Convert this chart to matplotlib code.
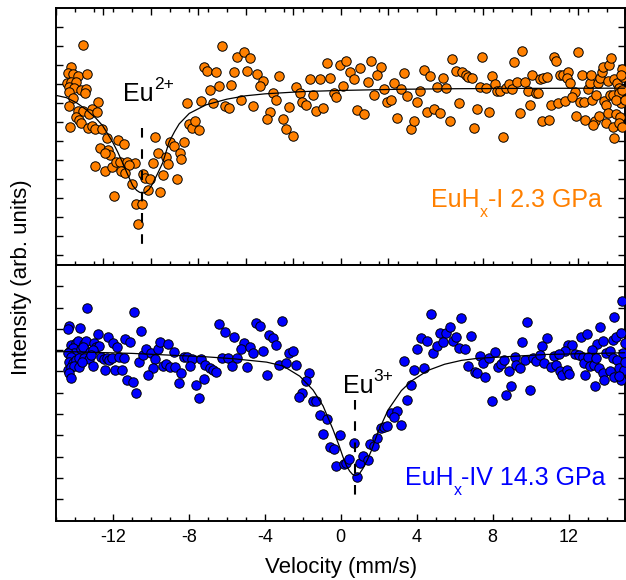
import matplotlib
matplotlib.use('Agg')
import matplotlib.pyplot as plt
from matplotlib.ticker import MultipleLocator

plt.rcParams['font.family'] = ['Liberation Sans', 'DejaVu Sans']
plt.rcParams['axes.unicode_minus'] = False

# ---------------- data: upper panel (EuHx-I, 2.3 GPa) ----------------
upper_v = [-13.59, -14.23, -14.38, -14.12, -13.86, -13.37, -14.42, -14.21, -13.95, -14.30,
           -14.04, -13.68, -13.42, -13.47, -14.33, -14.12, -14.30, -12.77, -13.86, -13.56,
           -13.11, -13.25, -12.86, -13.95, -13.77, -13.68, -14.26, -13.30, -13.12, -12.95,
           -12.58, -12.33, -11.75, -11.44, -12.68, -12.25, -12.16, -12.42, -12.93, -12.44,
           -12.05, -11.84, -11.63, -11.25, -10.84, -11.14, -11.56, -11.35, -11.00, -11.96,
           -10.79, -10.47, -10.68, -10.41, -10.30, -10.04, -10.14, -9.79, -9.65, -9.91,
           -9.21, -9.12, -9.38, -9.51, -8.98, -8.81, -8.47, -8.41, -8.65, -8.25,
           -8.11, -7.98, -7.81, -7.49, -7.67, -7.37, -7.23, -6.25, -5.44, -5.12,
           -4.77, -7.04, -6.59, -5.62, -4.93, -4.42, -4.11, -4.26, -3.25, -6.89,
           -6.42, -5.77, -6.72, -6.11, -5.91, -5.26, -4.62, -3.58, -3.41, -3.74,
           -3.91, -3.05, -2.70, -2.88, -2.51, -2.35, -2.17, -2.02, -1.81, -1.47,
           -1.63, -1.11, -0.56, -0.75, -0.05, 0.12, -0.37, -0.23, -1.28, -0.93,
           0.30, 0.51, 0.68, 1.04, 1.58, 2.11, 1.93, 1.41, 0.86, 1.21,
           1.74, 2.26, 2.46, 2.63, 2.79, 3.16, 3.33, 3.51, 2.98, 3.68,
           3.86, 4.04, 4.19, 4.37, 4.70, 4.54, 4.89, 5.23, 5.07, 5.38,
           5.56, 5.74, 5.88, 6.05, 6.37, 6.58, 6.72, 6.89, 6.23, 7.17,
           7.02, 7.35, 7.46, 9.54, 9.12, 7.96, 8.11, 7.67, 8.25, 8.41,
           8.68, 8.84, 9.02, 9.28, 9.68, 10.09, 9.86, 10.26, 10.38, 10.49,
           10.65, 10.86, 7.81, 9.42, 9.98, 8.54, 10.59, 10.96, 11.09, 11.44,
           11.79, 11.21, 11.35, 12.49, 11.56, 11.70, 11.96, 11.91, 12.09, 12.32,
           12.19, 12.58, 12.41, 12.89, 12.79, 13.04, 13.11, 12.70, 13.16, 13.21,
           13.46, 13.37, 13.28, 13.59, 13.54, 13.67, 13.74, 13.81, 14.12, 14.26,
           14.07, 13.89, 13.98, 14.16, 14.33, 14.42, 14.54, 13.95, 14.33, 14.07,
           14.51, 14.65, 14.68, 14.83, 14.86, 14.83, 14.77, 14.77, 14.72, 14.68,
           14.37, 14.51, 14.95, 14.83]
upper_y = [11.05, 9.91, 9.56, 9.51, 9.44, 9.51, 9.04, 9.12, 9.09, 8.86,
           8.77, 8.68, 8.72, 8.51, 8.59, 8.28, 7.84, 8.04, 7.59, 7.59,
           7.67, 7.42, 7.51, 7.25, 7.11, 6.93, 6.72, 6.67, 6.79, 6.65,
           6.65, 6.17, 6.05, 5.86, 5.62, 5.53, 5.28, 5.38, 4.68, 4.44,
           4.65, 4.91, 4.88, 4.89, 4.86, 4.75, 4.41, 4.33, 3.74, 3.11,
           2.70, 2.70, 1.62, 4.26, 4.07, 4.02, 3.42, 6.21, 5.38, 4.86,
           5.16, 4.77, 4.23, 3.30, 5.95, 5.75, 5.38, 5.07, 4.00, 5.93,
           7.98, 6.88, 6.67, 6.58, 7.07, 8.12, 9.88, 11.02, 10.44, 10.70,
           10.37, 9.70, 9.62, 9.65, 9.68, 9.53, 9.17, 8.89, 9.42, 8.68,
           8.89, 8.96, 8.02, 7.86, 7.72, 8.14, 7.86, 8.53, 8.16, 7.51,
           7.14, 7.17, 7.77, 6.65, 6.28, 8.83, 8.51, 8.05, 7.91, 8.42,
           9.26, 9.25, 9.30, 10.12, 9.98, 8.91, 8.51, 8.30, 7.56, 7.75,
           10.21, 9.63, 9.25, 9.86, 10.21, 9.91, 9.47, 9.12, 7.63, 7.42,
           8.42, 8.75, 8.05, 8.16, 9.07, 8.74, 9.56, 8.38, 7.21, 6.63,
           7.05, 8.05, 8.65, 9.72, 9.41, 7.53, 7.68, 7.47, 8.86, 9.33,
           8.81, 7.04, 10.30, 9.70, 9.63, 9.49, 9.35, 9.33, 7.98, 7.67,
           6.70, 8.86, 10.44, 10.74, 10.14, 9.44, 9.00, 8.77, 8.63, 8.65,
           8.77, 8.98, 8.74, 9.12, 9.12, 9.47, 8.65, 8.54, 8.54, 9.28,
           9.33, 9.38, 7.54, 7.46, 7.88, 6.23, 7.05, 7.11, 7.88, 8.02,
           8.12, 10.41, 10.23, 10.70, 9.47, 9.47, 9.62, 9.33, 9.04, 8.56,
           8.33, 8.04, 7.33, 7.11, 8.07, 8.75, 9.04, 9.47, 9.47, 8.16,
           8.42, 7.05, 6.84, 7.32, 9.07, 9.33, 9.62, 9.91, 10.00, 10.35,
           9.17, 8.12, 7.89, 8.42, 8.42, 9.25, 9.07, 6.93, 6.75, 7.46,
           7.42, 8.77, 8.51, 8.68, 9.38, 9.77, 9.47, 7.98, 7.25, 6.93,
           6.17, 8.16, 8.16, 6.75]

upper_fit_v = [-15.0, -14.45, -13.9, -13.4, -12.9, -12.54, -12.02, -11.75, -11.49, -11.22,
               -10.96, -10.75, -10.6, -10.45, -10.3, -10.1, -9.91, -9.65, -9.38, -9.04,
               -8.75, -8.51, -7.98, -7.1, -6.0, -5.0, -4.0, -2.0, 0.0, 3.0, 6.0, 10.0, 15.0]
upper_fit_y = [8.40, 8.28, 8.00, 7.64, 7.20, 6.80, 5.95, 5.42, 4.85, 4.22,
               3.65, 3.40, 3.30, 3.26, 3.28, 3.45, 3.75, 4.28, 4.85, 5.95,
               6.50, 6.90, 7.45, 7.90, 8.20, 8.38, 8.48, 8.60, 8.66, 8.72, 8.75, 8.77, 8.78]

# ---------------- data: lower panel (EuHx-IV, 14.3 GPa) ----------------
lower_v = [-13.37, -14.33, -14.38, -13.72, -12.77, -12.25, -10.91, -10.53, -11.35, -11.11,
           -11.98, -11.79, -14.21, -13.95, -13.83, -13.51, -13.42, -13.02, -12.89, -12.72,
           -14.30, -14.12, -14.04, -13.68, -13.59, -13.19, -13.07, -14.38, -14.21, -14.30,
           -14.12, -13.95, -13.77, -13.51, -13.25, -13.16, -12.63, -12.46, -12.33, -12.19,
           -12.05, -11.67, -11.44, -14.38, -14.21, -14.04, -13.81, -13.63, -13.07, -12.42,
           -11.88, -11.53, -14.33, -14.21, -11.26, -10.96, -10.79, -10.65, -10.41, -10.26,
           -10.00, -9.77, -9.88, -10.14, -9.63, -9.51, -9.11, -8.81, -9.38, -9.21,
           -8.98, -8.72, -8.41, -8.54, -8.25, -8.11, -7.81, -7.95, -7.35, -7.14,
           -7.23, -7.63, -7.49, -6.42, -6.11, -5.62, -5.11, -5.28, -4.79, -4.62,
           -4.44, -4.26, -3.77, -3.59, -3.42, -3.07, -4.12, -2.72, -2.54, -6.28,
           -5.93, -5.44, -5.75, -4.93, -6.89, -6.72, -6.58, -3.91, -3.25, -2.89,
           -2.37, -1.67, -1.81, -2.02, -2.19, -1.46, -1.28, -1.11, -0.75, -0.93,
           -0.05, -0.58, -0.37, -0.23, 0.16, 0.30, 0.42, 0.70, 0.83, 1.00,
           1.17, 1.44, 1.53, 1.75, 1.93, 2.11, 2.28, 2.46, 2.67, 2.98,
           2.81, 3.19, 3.51, 3.68, 3.33, 3.86, 4.38, 4.04, 4.21, 4.56,
           4.74, 4.88, 5.05, 5.21, 5.56, 5.41, 5.74, 5.91, 6.05, 6.35,
           6.21, 6.56, 6.88, 6.70, 7.05, 7.19, 7.33, 7.49, 7.58, 14.83,
           14.42, 9.83, 9.54, 13.67, 12.67, 12.98, 13.49, 13.81, 14.33, 14.51,
           14.77, 10.62, 10.86, 11.96, 12.19, 11.79, 13.25, 7.81, 8.11, 9.16,
           9.68, 10.12, 10.30, 10.47, 10.70, 11.05, 11.21, 11.49, 11.35, 11.53,
           11.67, 11.91, 12.05, 12.32, 12.54, 12.75, 12.79, 13.02, 13.11, 13.32,
           13.46, 13.63, 13.81, 13.89, 13.98, 14.19, 14.33, 14.54, 14.68, 14.77,
           14.86, 14.93, 8.28, 8.42, 8.58, 8.84, 9.25, 9.42, 8.98, 8.68,
           7.96, 9.95, 12.89, 13.37, 14.16, 14.42, 14.68, 14.95, 14.97]
lower_y = [8.97, 8.14, 8.00, 8.03, 7.75, 7.63, 8.81, 7.92, 7.53, 7.40,
           7.35, 7.14, 7.24, 7.32, 7.43, 7.28, 7.45, 7.32, 7.14, 7.20,
           6.93, 7.09, 6.85, 7.04, 7.16, 6.93, 7.01, 6.85, 6.69, 6.46,
           6.38, 6.54, 6.62, 6.62, 6.59, 6.77, 6.69, 6.57, 6.62, 6.54,
           6.62, 6.69, 6.62, 6.07, 6.23, 6.26, 6.23, 6.46, 6.26, 6.07,
           6.07, 6.07, 5.92, 5.71, 5.60, 5.49, 4.98, 6.46, 6.77, 7.04,
           6.88, 6.59, 6.18, 5.84, 7.04, 7.40, 7.29, 6.93, 6.26, 6.34,
           6.20, 6.20, 5.94, 5.45, 6.69, 6.69, 6.57, 6.26, 6.60, 6.29,
           5.65, 5.37, 4.77, 8.23, 7.87, 7.61, 7.35, 7.07, 7.14, 6.88,
           8.29, 8.14, 7.71, 7.56, 7.24, 8.38, 6.98, 6.88, 6.98, 6.62,
           6.62, 6.62, 6.27, 6.23, 6.15, 6.07, 5.99, 5.85, 6.32, 6.41,
           6.32, 5.94, 5.57, 5.00, 4.79, 4.63, 4.62, 3.96, 3.76, 3.07,
           3.02, 2.44, 2.36, 1.56, 1.66, 1.69, 1.88, 2.66, 1.06, 1.69,
           2.05, 1.85, 2.60, 2.50, 2.86, 3.33, 3.38, 3.44, 4.07, 4.16,
           3.88, 3.49, 4.66, 5.37, 6.51, 6.07, 6.15, 7.04, 7.59, 7.45,
           8.69, 6.85, 7.20, 7.82, 7.79, 7.40, 8.10, 7.43, 7.63, 8.50,
           7.09, 7.04, 7.67, 6.26, 5.99, 5.94, 6.73, 6.38, 5.76, 9.31,
           8.54, 8.34, 7.40, 8.10, 7.61, 7.75, 7.29, 7.43, 7.48, 7.63,
           7.79, 7.21, 7.56, 7.24, 7.24, 6.98, 7.01, 6.62, 6.90, 6.69,
           6.54, 6.62, 6.49, 6.77, 6.41, 6.23, 6.73, 6.81, 6.31, 6.02,
           5.84, 6.07, 5.87, 6.82, 6.77, 6.69, 6.41, 6.69, 6.26, 6.31,
           6.62, 6.18, 5.92, 5.60, 6.85, 6.96, 6.62, 6.54, 6.15, 5.60,
           6.88, 6.07, 6.23, 6.35, 6.54, 6.02, 6.31, 6.15, 5.32, 4.90,
           4.62, 5.13, 5.84, 5.33, 6.02, 5.76, 5.79, 6.46, 7.32]

lower_fit_v = [-15.0, -14.3, -11.0, -7.11, -5.67, -3.91, -3.04, -2.16, -1.46, -0.93,
               -0.41, -0.1, 0.12, 0.3, 0.47, 0.62, 0.75, 0.9, 1.0, 1.17,
               1.4, 1.62, 1.96, 2.49, 3.19, 3.72, 4.59, 5.47, 6.35, 7.23, 10.83, 15.0]
lower_fit_y = [6.93, 6.93, 6.85, 6.69, 6.60, 6.44, 6.26, 5.78, 5.13, 4.38,
               3.28, 2.55, 1.98, 1.58, 1.32, 1.17, 1.12, 1.15, 1.22, 1.45,
               1.85, 2.30, 3.15, 4.19, 5.10, 5.55, 6.05, 6.34, 6.52, 6.62, 6.80, 6.88]

eu2_center = -10.49
eu3_center = 0.74
x_major_labels = [-12, -8, -4, 0, 4, 8, 12]

orange = '#FF8000'
blue = '#0000FF'

fig = plt.figure(figsize=(6.26, 5.80), dpi=100)
W, H = 626.0, 580.0
ax1 = fig.add_axes([56 / W, (H - 265) / H, 569.5 / W, 257 / H])
ax2 = fig.add_axes([56 / W, (H - 521) / H, 569.5 / W, 256 / H])

for ax in (ax1, ax2):
    ax.set_xlim(-15, 15)
    for s in ax.spines.values():
        s.set_linewidth(1.4)
    ax.tick_params(axis='both', which='both', direction='in', width=1.0,
                   labelleft=False, right=True, left=True)
    ax.tick_params(axis='both', which='major', length=4.8)
    ax.tick_params(axis='both', which='minor', length=3.0)

# upper panel
ax1.set_ylim(-0.53, 13.0)
ax1.set_yticks(range(0, 13))
ax1.xaxis.set_major_locator(MultipleLocator(2.5))
ax1.xaxis.set_minor_locator(MultipleLocator(1))
ax1.tick_params(axis='x', which='both', top=True, bottom=True, labelbottom=False)

ax1.plot(upper_v, upper_y, 'o', ms=6.8, mfc=orange, mec='black', mew=0.7,
         clip_on=False, zorder=3)
ax1.plot(upper_fit_v, upper_fit_y, '-', color='black', lw=0.9, zorder=4)
ax1.plot([eu2_center, eu2_center], [6.68, 0.53], color='black', lw=1.5,
         dashes=(4.6, 5.6), zorder=5)

# lower panel
ax2.set_ylim(-1.02, 11.0)
ax2.set_yticks(range(0, 11))
ax2.set_xticks(x_major_labels)
ax2.xaxis.set_minor_locator(MultipleLocator(1))
ax2.tick_params(axis='x', which='both', top=False, bottom=True, labelsize=13, pad=6)

ax2.plot(lower_v, lower_y, 'o', ms=6.8, mfc=blue, mec='black', mew=0.7,
         clip_on=False, zorder=3)
ax2.plot(lower_fit_v, lower_fit_y, '-', color='black', lw=0.9, zorder=4)
ax2.plot([eu3_center, eu3_center], [4.66, -0.17], color='black', lw=1.5,
         dashes=(4.6, 5.6), zorder=5)

fig.text(341 / W, (H - 573.3) / H, 'Velocity (mm/s)', fontsize=16,
         ha='center', va='baseline')
fig.text(27 / W, (H - 277) / H, 'Intensity (arb. units)', fontsize=16,
         rotation=90, rotation_mode='anchor', ha='center', va='baseline')

renderer = fig.canvas.get_renderer()


def chain_text(ax, x, y, parts, color):
    """parts: list of (string, fontsize, baseline shift in pixels)."""
    bx, by = ax.transData.transform((x, y))
    cur = bx
    for s, fs, shift in parts:
        t = fig.text(cur / W, (by + shift) / H, s, fontsize=fs, color=color,
                     ha='left', va='baseline')
        cur = t.get_window_extent(renderer).x1


chain_text(ax1, -11.47, 8.11, [('Eu', 18, 0), ('2+', 12.5, 12)], 'black')
chain_text(ax2, 0.10, 4.99, [('Eu', 18, 0), ('3+', 12.5, 12)], 'black')
chain_text(ax1, 4.77, 2.54, [('EuH', 18, 0), ('x', 11.5, -10), ('-I 2.3 GPa', 18, 0)], orange)
chain_text(ax2, 3.37, 0.67, [('EuH', 18, 0), ('x', 11.5, -10), ('-IV 14.3 GPa', 18, 0)], blue)

fig.savefig('out.png', dpi=100)
